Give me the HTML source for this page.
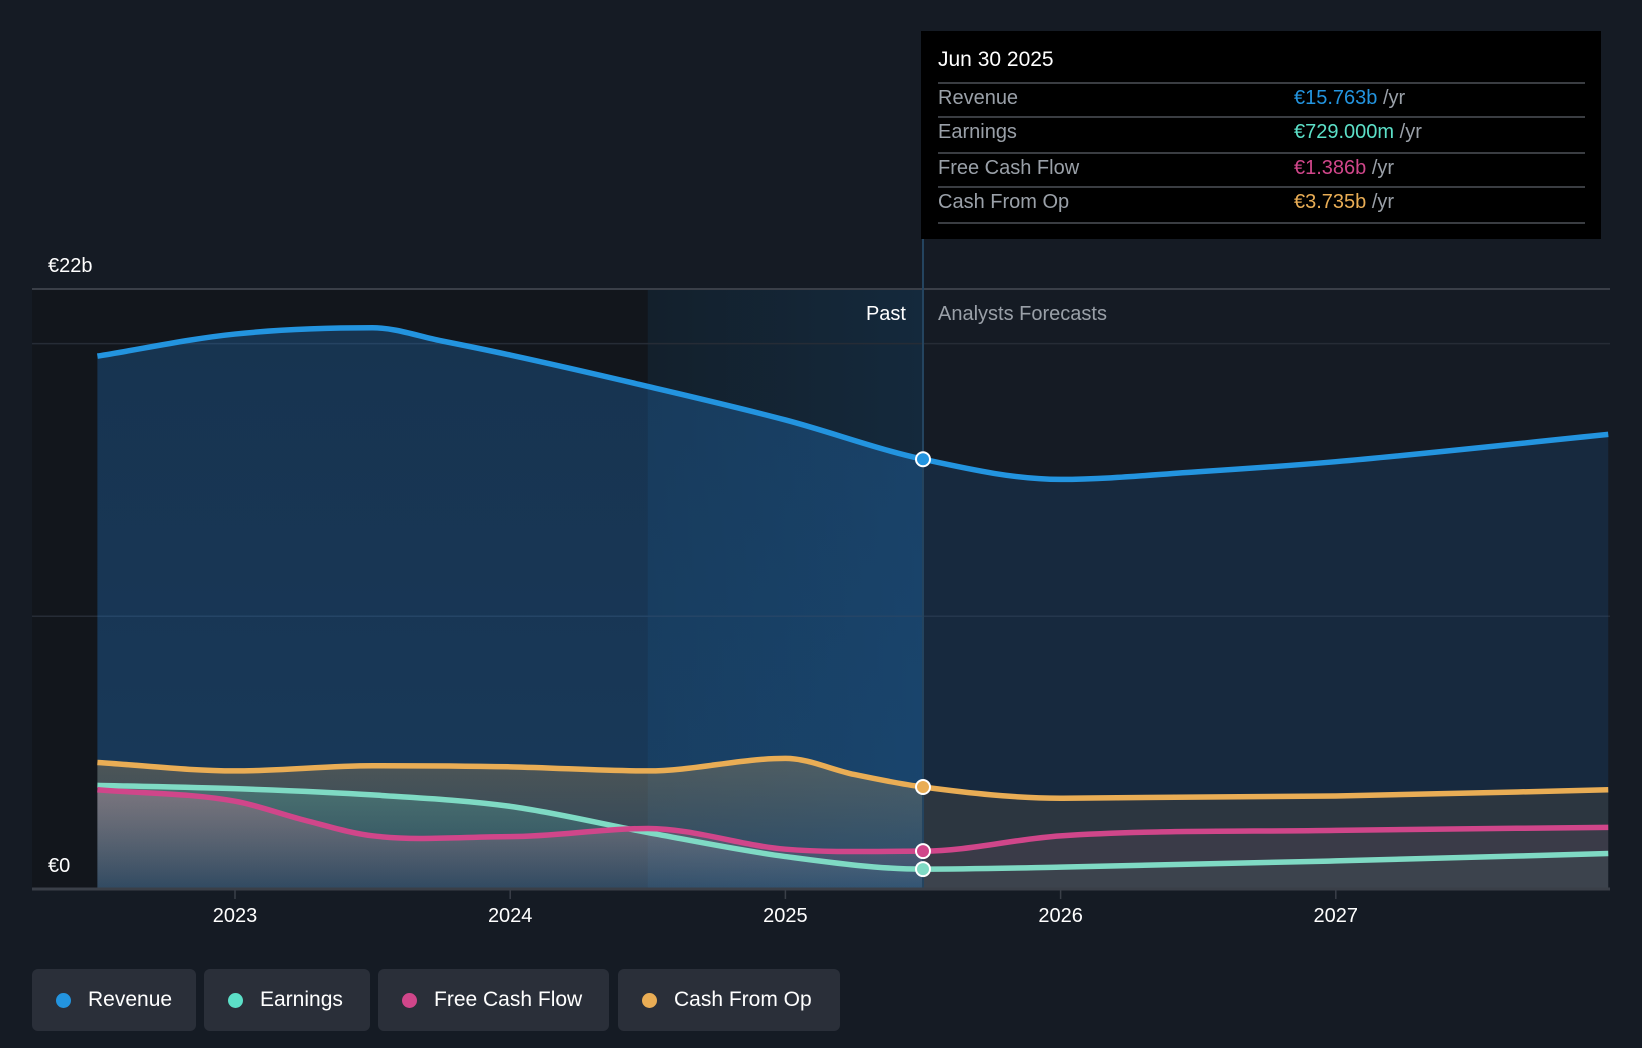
<!DOCTYPE html>
<html><head><meta charset="utf-8"><style>
html,body{margin:0;padding:0;background:#151b24;}
body{width:1642px;height:1048px;overflow:hidden;position:relative;font-family:"Liberation Sans",sans-serif;}
svg{position:absolute;left:0;top:0;}
.legend{position:absolute;top:969px;height:62px;background:#2a2f39;border-radius:6px;color:#fff;font-size:21px;line-height:62px;box-sizing:border-box;padding-left:56px;}
.legend i{position:absolute;left:24px;top:24px;width:15px;height:15px;border-radius:50%;}
#tip{position:absolute;left:921px;top:31px;width:680px;height:208px;background:#000;}
.tr{position:absolute;left:17px;width:647px;font-size:20px;color:#9aa0a8;}
.tr span.v{position:absolute;left:356px;}
.ln{position:absolute;left:17px;width:647px;height:2px;background:#3a3d42;}
</style></head><body>
<svg id="chart" width="1642" height="1048"></svg>
<div id="tip">
  <div style="position:absolute;left:17px;top:17px;color:#fff;font-size:21px;">Jun 30 2025</div>
  <div class="ln" style="top:51px"></div>
  <div class="tr" style="top:56px">Revenue<span class="v"><span style="color:#2394df">€15.763b</span> /yr</span></div>
  <div class="ln" style="top:85px"></div>
  <div class="tr" style="top:90px">Earnings<span class="v"><span style="color:#5ce0c8">€729.000m</span> /yr</span></div>
  <div class="ln" style="top:121px"></div>
  <div class="tr" style="top:126px">Free Cash Flow<span class="v"><span style="color:#d0468a">€1.386b</span> /yr</span></div>
  <div class="ln" style="top:155px"></div>
  <div class="tr" style="top:160px">Cash From Op<span class="v"><span style="color:#e9ad55">€3.735b</span> /yr</span></div>
  <div class="ln" style="top:191px"></div>
</div>
<div class="legend" style="left:32px;width:164px"><i style="background:#2394df"></i>Revenue</div>
<div class="legend" style="left:204px;width:166px"><i style="background:#5ce0c8"></i>Earnings</div>
<div class="legend" style="left:378px;width:231px"><i style="background:#d0468a"></i>Free Cash Flow</div>
<div class="legend" style="left:618px;width:222px"><i style="background:#e9ad55"></i>Cash From Op</div>
<script>
const revX=[2022.5,2023.0,2023.5,2023.75,2024.0,2024.5,2025.0,2025.5,2026.0,2026.5,2027.0,2027.99];
const revY=[19.54,20.35,20.58,20.1,19.58,18.43,17.2,15.76,15.02,15.3,15.67,16.67];
const cfoX=[2022.5,2023.0,2023.5,2024.0,2024.5,2025.0,2025.25,2025.5,2026.0,2027.0,2027.99];
const cfoY=[4.64,4.33,4.52,4.48,4.33,4.79,4.2,3.74,3.33,3.41,3.64];
const earnX=[2022.5,2023.0,2023.5,2024.0,2024.5,2025.0,2025.5,2026.0,2027.0,2027.99];
const earnY=[3.8,3.68,3.45,3.03,2.07,1.19,0.73,0.8,1.03,1.3];
const fcfX=[2022.5,2023.0,2023.25,2023.5,2024.0,2024.5,2025.0,2025.5,2026.0,2027.0,2027.99];
const fcfY=[3.64,3.22,2.53,1.95,1.92,2.22,1.46,1.39,1.95,2.15,2.26];
const xTicks=[2023,2024,2025,2026,2027];
const NOW=2025.5, PAST_START=2024.5;
const X=t=>235+(t-2023)*275.2;
const Y=v=>889-v*27.27;
const NS='http://www.w3.org/2000/svg';
const svg=document.getElementById('chart');
function mk(tag,attrs,parent){const e=document.createElementNS(NS,tag);for(const k in attrs)e.setAttribute(k,attrs[k]);(parent||svg).appendChild(e);return e;}
function path(xs,ys){
  const p=xs.map((x,i)=>[X(x),Y(ys[i])]);const n=p.length;
  const d=[],m=[];
  for(let i=0;i<n-1;i++)d.push((p[i+1][1]-p[i][1])/(p[i+1][0]-p[i][0]));
  m[0]=d[0];m[n-1]=d[n-2];
  for(let i=1;i<n-1;i++)m[i]=d[i-1]*d[i]<=0?0:(d[i-1]+d[i])/2;
  let s='M'+p[0][0]+','+p[0][1];
  for(let i=0;i<n-1;i++){const h=(p[i+1][0]-p[i][0])/3;
    s+=` C${p[i][0]+h},${p[i][1]+m[i]*h} ${p[i+1][0]-h},${p[i+1][1]-m[i+1]*h} ${p[i+1][0]},${p[i+1][1]}`;}
  return s;
}
const defs=mk('defs',{});
let r=mk('rect',{x:32,y:289,width:X(PAST_START)-32,height:600,fill:'#12161c'});

const g=mk('linearGradient',{id:'hl',x1:0,x2:1,y1:0,y2:0},defs);
mk('stop',{offset:0,'stop-color':'#13202c'},g);mk('stop',{offset:1,'stop-color':'#14293c'},g);
r=mk('rect',{x:X(PAST_START),y:289,width:X(NOW)-X(PAST_START),height:600,fill:'url(#hl)'});

[22,20,10].forEach(v=>{const l=mk('line',{x1:32,x2:1610,y1:Y(v),y2:Y(v),stroke:v==22?'#3a3f48':'#262c36','stroke-width':v==22?2:1.5});
});
const series=[
 {n:'revenue',x:revX,y:revY,c:'#2394df',rgb:'35,120,200',a1:0.30,a2:0.36,f:0.16},
 {n:'cash-from-op',x:cfoX,y:cfoY,c:'#e9ad55',rgb:'233,173,85',a1:0.26,a2:0.06,f:0.10},
 {n:'earnings',x:earnX,y:earnY,c:'#7fdac4',rgb:'92,224,200',a1:0.22,a2:0.04,f:0.05},
 {n:'free-cash-flow',x:fcfX,y:fcfY,c:'#d0468a',rgb:'235,130,160',a1:0.30,a2:0.05,f:0.08}];
const cp=mk('clipPath',{id:'cpast'},defs);mk('rect',{x:0,y:0,width:X(NOW),height:1048},cp);
const cf=mk('clipPath',{id:'cfut'},defs);mk('rect',{x:X(NOW),y:0,width:1642,height:1048},cf);
series.forEach(s=>{
  const d=path(s.x,s.y);const x0=X(s.x[0]),x1=X(s.x[s.x.length-1]);
  const top=Y(Math.max(...s.y));
  const gr=mk('linearGradient',{id:'g-'+s.n,x1:0,x2:0,y1:top,y2:889,gradientUnits:'userSpaceOnUse'},defs);
  mk('stop',{offset:0,'stop-color':`rgba(${s.rgb},${s.a1})`},gr);
  mk('stop',{offset:1,'stop-color':`rgba(${s.rgb},${s.a2})`},gr);
  const area=d+` L${x1},889 L${x0},889 Z`;
  let a=mk('path',{d:area,fill:'url(#g-'+s.n+')','clip-path':'url(#cpast)'});
  
  a=mk('path',{d:area,fill:`rgba(${s.rgb},${s.f})`,'clip-path':'url(#cfut)'});
  
});
series.forEach(s=>{
  const l=mk('path',{d:path(s.x,s.y),fill:'none',stroke:s.c,'stroke-width':5.5,'stroke-linejoin':'round'});
  
});
let vl=mk('line',{x1:X(NOW),x2:X(NOW),y1:239,y2:889,stroke:'#24445f','stroke-width':2});

series.forEach(s=>{
  const i=s.x.indexOf(NOW);
  const c=mk('circle',{cx:X(NOW),cy:Y(s.y[i]),r:7,fill:s.c,stroke:'#fff','stroke-width':2});
  
});
let ax=mk('line',{x1:32,x2:1610,y1:889,y2:889,stroke:'#3a3f48','stroke-width':3});

xTicks.forEach(t=>{
  const tk=mk('line',{x1:X(t),x2:X(t),y1:889,y2:899,stroke:'#3a3f48','stroke-width':1.5});
  
  const tx=mk('text',{x:X(t),y:922,fill:'#fff','font-size':20,'text-anchor':'middle'});tx.textContent=t;
  
});
function txt(s,x,y,fill,anchor,name){const t=mk('text',{x:x,y:y,fill:fill,'font-size':20,'text-anchor':anchor});t.textContent=s;
}
txt('€22b',48,272,'#fff','start','y-label-max');
txt('€0',48,872,'#fff','start','y-label-zero');
txt('Past',906,320,'#fff','end','past-label');
txt('Analysts Forecasts',938,320,'#9aa0a8','start','forecast-label');
</script>
</body></html>
